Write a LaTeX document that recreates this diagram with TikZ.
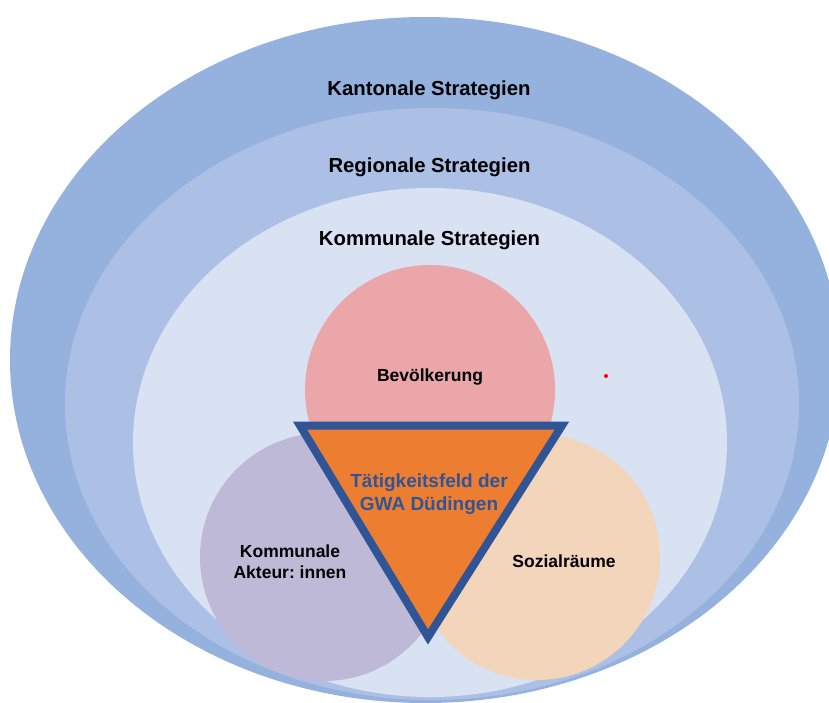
\documentclass[tikz,border=0pt]{standalone}
\usepackage{fontspec}
\setmainfont{Liberation Sans}
\frenchspacing
\definecolor{outerblue}{HTML}{95B1DE}
\definecolor{midblue}{HTML}{ABC0E4}
\definecolor{innerblue}{HTML}{D9E2F3}
\definecolor{pinkc}{HTML}{EAA6A8}
\definecolor{purplec}{HTML}{BFB9D8}
\definecolor{peachc}{HTML}{F2D5BB}
\definecolor{orangec}{HTML}{ED7D31}
\definecolor{navy}{HTML}{2F5597}
\begin{document}
\begin{tikzpicture}[x=1pt,y=-1pt,
  biglbl/.style={font=\bfseries\fontsize{20.3}{24}\selectfont, anchor=base, inner sep=0pt, text=black},
  circlbl/.style={font=\bfseries\fontsize{17.5}{21}\selectfont, anchor=base, inner sep=0pt, text=black},
  trilbl/.style={font=\bfseries\fontsize{19}{23}\selectfont, anchor=base, inner sep=0pt, text=navy}]
\useasboundingbox (0,0) rectangle (829,702);
\clip (0,0) rectangle (829,702);
% nested strategy ellipses
\fill[outerblue] (425,360) ellipse [x radius=415, y radius=343];
\fill[midblue] (432,404) ellipse [x radius=367, y radius=296];
\fill[innerblue] (430,442.5) ellipse [x radius=297, y radius=254.5];
% circles
\fill[pinkc] (430,390) circle [radius=125];
\fill[purplec] (324,557) circle [radius=124];
\fill[peachc] (537,557) circle [radius=123];
% triangle
\coordinate (tl) at (300,425.5);
\coordinate (tr) at (562,425.5);
\coordinate (tb) at (428,637);
\filldraw[fill=orangec, draw=navy, line width=8pt, line join=miter] (tl) -- (tr) -- (tb) -- cycle;
% labels
\node[biglbl] (kant) at (429,95) {Kantonale Strategien};
\node[biglbl] (reg) at (429.5,172) {Regionale Strategien};
\node[biglbl] (komm) at (429.5,245) {Kommunale Strategien};
\node[circlbl] (bev) at (430,381) {Bevölkerung};
\node[circlbl] (akt1) at (290,557) {Kommunale};
\node[circlbl] (akt2) at (290,578) {Akteur: innen};
\node[circlbl] (soz) at (564,567) {Sozialräume};
\node[trilbl] (gwa1) at (429,487) {Tätigkeitsfeld der};
\node[trilbl] (gwa2) at (429,510) {GWA Düdingen};
\node[circle, fill=red, inner sep=0pt, minimum size=4pt] (dot) at (606,376) {};
\end{tikzpicture}
\end{document}
